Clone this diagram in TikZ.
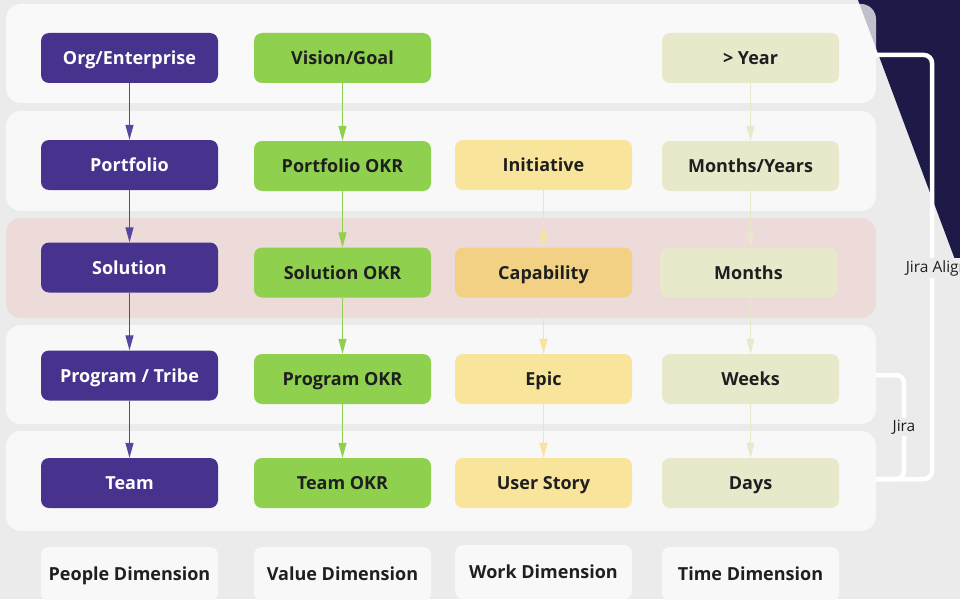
\documentclass[tikz,border=0pt]{standalone}
\usepackage{fontspec}
\setmainfont{Open Sans}
\usetikzlibrary{arrows.meta}
\definecolor{bg}{HTML}{EBEBEB}
\definecolor{rowc}{HTML}{F8F8F8}
\definecolor{pinkrow}{HTML}{ECDBD8}
\definecolor{navy}{HTML}{1E1A47}
\definecolor{purp}{HTML}{47338E}
\definecolor{purpline}{HTML}{5546A0}
\definecolor{grn}{HTML}{8FD14F}
\definecolor{yel}{HTML}{F9E49B}
\definecolor{capc}{HTML}{F2D184}
\definecolor{timec}{HTML}{E8E8CA}
\definecolor{txt}{HTML}{1F1F1F}
\tikzset{
  x=1pt, y=-1pt,
  box/.style={rounded corners=8pt, minimum width=177pt, minimum height=50pt, inner sep=0pt,
    text height=13pt, text depth=0pt,
    font=\fontsize{18}{21}\selectfont\bfseries, text=txt},
  pnode/.style={box, fill=purp, text=white},
  gnode/.style={box, fill=grn},
  ynode/.style={box, fill=yel},
  tnode/.style={box, fill=timec},
  dnode/.style={box, fill=rowc, minimum height=54pt},
  arr/.style={line width=1.2pt, -{Triangle[length=15pt,width=8pt]}},
  bracket/.style={draw=white, line width=4.5pt, rounded corners=8pt},
  lbl/.style={font=\fontsize{15.5}{18}\selectfont, text=txt, fill=bg, inner sep=2pt}
}
\begin{document}
\begin{tikzpicture}
\useasboundingbox (0,0) rectangle (960,599);
\fill[bg] (0,0) rectangle (960,599);
% navy triangle
\fill[navy] (858,0) -- (960,0) -- (960,273) -- cycle;
% rows
\fill[white, fill opacity=0.72, rounded corners=15pt] (6,4) rectangle (876,103);
\fill[rowc, rounded corners=15pt] (6,111) rectangle (876,211);
\fill[pinkrow, rounded corners=15pt] (6,218) rectangle (876,318);
\fill[rowc, rounded corners=15pt] (6,325) rectangle (876,424);
\fill[rowc, rounded corners=15pt] (6,431) rectangle (876,531);
% brackets
\coordinate (a1) at (876,55);
\coordinate (a2) at (932,55);
\coordinate (a3) at (932,479);
\coordinate (a4) at (876,479);
\coordinate (b1) at (876,375);
\coordinate (b2) at (904,375);
\coordinate (b3) at (904,479);
\draw[bracket] (a1) -- (a2) -- (a3) -- (a4);
\draw[bracket] (b1) -- (b2) -- (b3) -- (a4);
\node[lbl] (jiraalign) at (937,268) {Jira Align};
\node[lbl] (jira) at (904,427) {Jira};
% people column
\node[pnode] (org) at (129.5,58) {Org/Enterprise};
\node[pnode] (port) at (129.5,165) {Portfolio};
\node[pnode] (sol) at (129.5,267.5) {Solution};
\node[pnode] (prog) at (129.5,375.5) {Program / Tribe};
\node[pnode] (team) at (129.5,483) {Team};
% value column
\node[gnode] (vision) at (342.5,58) {Vision/Goal};
\node[gnode] (pokr) at (342.5,166) {Portfolio OKR};
\node[gnode] (sokr) at (342.5,272.5) {Solution OKR};
\node[gnode] (prokr) at (342.5,379) {Program OKR};
\node[gnode] (tokr) at (342.5,483) {Team OKR};
% work column
\node[ynode] (init) at (543.5,165) {Initiative};
\node[box, fill=capc] (cap) at (543.5,272.5) {Capability};
\node[ynode] (epic) at (543.5,379) {Epic};
\node[ynode] (story) at (543.5,483) {User Story};
% time column
\node[tnode] (year) at (750.5,58) {> Year};
\node[tnode] (my) at (750.5,166) {Months/Years};
\node[tnode] (months) at (748.5,272.5) {Months};
\node[tnode] (weeks) at (750.5,379) {Weeks};
\node[tnode] (days) at (750.5,483) {Days};
% dimension labels
\node[dnode] (dpeople) at (129.5,574) {People Dimension};
\node[dnode] (dvalue) at (342.5,574) {Value Dimension};
\node[dnode] (dwork) at (543.5,572) {Work Dimension};
\node[dnode] (dtime) at (750.5,574) {Time Dimension};
% arrows
\draw[arr, purpline] (org) -- (port);
\draw[arr, purpline] (port) -- (sol);
\draw[arr, purpline] (sol) -- (prog);
\draw[arr, purpline] (prog) -- (team);
\draw[arr, grn] (vision) -- (pokr);
\draw[arr, grn] (pokr) -- (sokr);
\draw[arr, grn] (sokr) -- (prokr);
\draw[arr, grn] (prokr) -- (tokr);
\draw[arr, yel] (init) -- (cap);
\draw[arr, yel] (cap) -- (epic);
\draw[arr, yel] (epic) -- (story);
\draw[arr, timec] (year) -- (my);
\draw[arr, timec] (my.south) -- (months.north -| my.south);
\draw[arr, timec] (months.south -| my.south) -- (weeks.north);
\draw[arr, timec] (weeks) -- (days);
\end{tikzpicture}
\end{document}
